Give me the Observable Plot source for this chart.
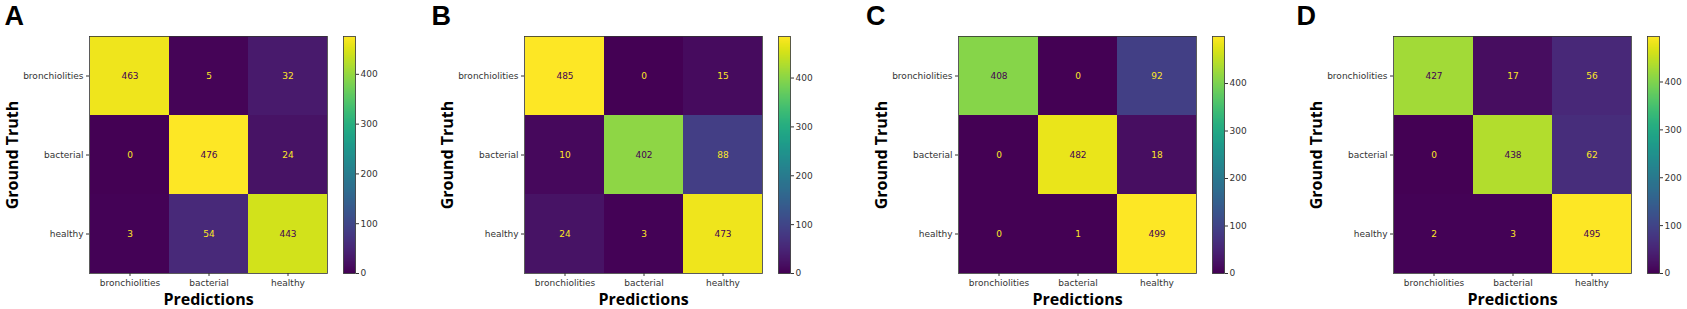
<!DOCTYPE html>
<html><head><meta charset="utf-8">
<script src="https://cdn.jsdelivr.net/npm/d3@7"></script>
<script src="https://cdn.jsdelivr.net/npm/@observablehq/plot@0.6"></script>
<style>
body{margin:0;background:#fff;}
#chart{position:relative;width:1687px;height:309px;overflow:hidden;background:#fff;}
#chart svg{position:absolute;top:0;overflow:visible;}
</style></head><body><div id="chart"></div>
<script>
const categories = ["bronchiolities", "bacterial", "healthy"];
const panelLetters = ["A", "B", "C", "D"];
const matrixA = [[463, 5, 32], [0, 476, 24], [3, 54, 443]];
const matrixB = [[485, 0, 15], [10, 402, 88], [24, 3, 473]];
const matrixC = [[408, 0, 92], [0, 482, 18], [0, 1, 499]];
const matrixD = [[427, 17, 56], [0, 438, 62], [2, 3, 495]];
const colorbarTicks = [0, 100, 200, 300, 400];
const xLabel = "Predictions";
const yLabel = "Ground Truth";

const matrices = [matrixA, matrixB, matrixC, matrixD];
const heatLefts = [89, 524, 958, 1393];
const letterLefts = [4, 431, 865.5, 1296];
const plotW = 238, plotTop = 36, plotBottom = 36, H = 309;
const mL = 100;
const chart = document.getElementById("chart");

matrices.forEach((matrix, k) => {
  const L = heatLefts[k];
  const data = [];
  matrix.forEach((row, i) => row.forEach((v, j) => data.push({truth: categories[i], pred: categories[j], value: v})));
  const vmin = d3.min(data, d => d.value), vmax = d3.max(data, d => d.value);
  const thresh = (vmin + vmax) / 2;
  const textStyle = {fontFamily: "DejaVu Sans", fontSize: 9};
  const heat = Plot.plot({
    width: mL + plotW + 10, height: H,
    marginLeft: mL, marginRight: 10, marginTop: plotTop, marginBottom: plotBottom,
    style: {fontFamily: "DejaVu Sans", fontSize: "9px", color: "#333", background: "transparent"},
    x: {domain: categories, padding: 0, axis: null},
    y: {domain: categories, padding: 0, axis: null},
    color: {type: "linear", scheme: "viridis", domain: [vmin, vmax]},
    marks: [
      Plot.cell(data, {x: "pred", y: "truth", fill: "value", inset: 0}),
      Plot.text(data.filter(d => d.value < thresh), {x: "pred", y: "truth", text: d => String(d.value), fill: d3.interpolateViridis(1), ...textStyle}),
      Plot.text(data.filter(d => d.value >= thresh), {x: "pred", y: "truth", text: d => String(d.value), fill: d3.interpolateViridis(0), ...textStyle}),
      Plot.frame({stroke: "#333", strokeWidth: 0.8}),
      Plot.axisX({anchor: "bottom", tickSize: 3, tickPadding: 3, label: null, fontSize: 9, fill: "#333"}),
      Plot.axisY({anchor: "left", tickSize: 3, tickPadding: 3, label: null, fontSize: 9, fill: "#333"}),
      Plot.text([xLabel], {frameAnchor: "bottom", dy: 31, lineAnchor: "bottom", fontFamily: "Open Sans", fontWeight: "bold", fontSize: 16, fill: "#000"}),
      Plot.text([yLabel], {frameAnchor: "left", dx: -77, rotate: -90, lineAnchor: "middle", textAnchor: "middle", fontFamily: "Open Sans", fontWeight: "bold", fontSize: 16, fill: "#000"}),
      Plot.text([panelLetters[k]], {frameAnchor: "top-left", dx: letterLefts[k] - L, dy: 5 - plotTop, lineAnchor: "top", textAnchor: "start", fontFamily: "Liberation Sans", fontWeight: "bold", fontSize: 27, fill: "#000"})
    ]
  });
  heat.style.left = (L - mL) + "px";
  chart.appendChild(heat);

  const cb = Plot.plot({
    width: 12 + 40, height: H,
    marginLeft: 0, marginRight: 40, marginTop: plotTop, marginBottom: plotBottom,
    style: {fontFamily: "DejaVu Sans", fontSize: "9px", color: "#333", background: "transparent"},
    x: {domain: [0, 1], axis: null},
    y: {domain: [vmin, vmax], axis: null},
    color: {type: "linear", scheme: "viridis", domain: [vmin, vmax]},
    marks: [
      Plot.raster({x1: 0, x2: 1, y1: vmin, y2: vmax, width: 1, height: 256, fill: (x, y) => y}),
      Plot.frame({stroke: "#333", strokeWidth: 0.8}),
      Plot.axisY(colorbarTicks, {anchor: "right", tickSize: 3, tickPadding: 2, label: null, fontSize: 9, fill: "#333"})
    ]
  });
  cb.style.left = (L + 254) + "px";
  chart.appendChild(cb);
});
</script></body></html>
